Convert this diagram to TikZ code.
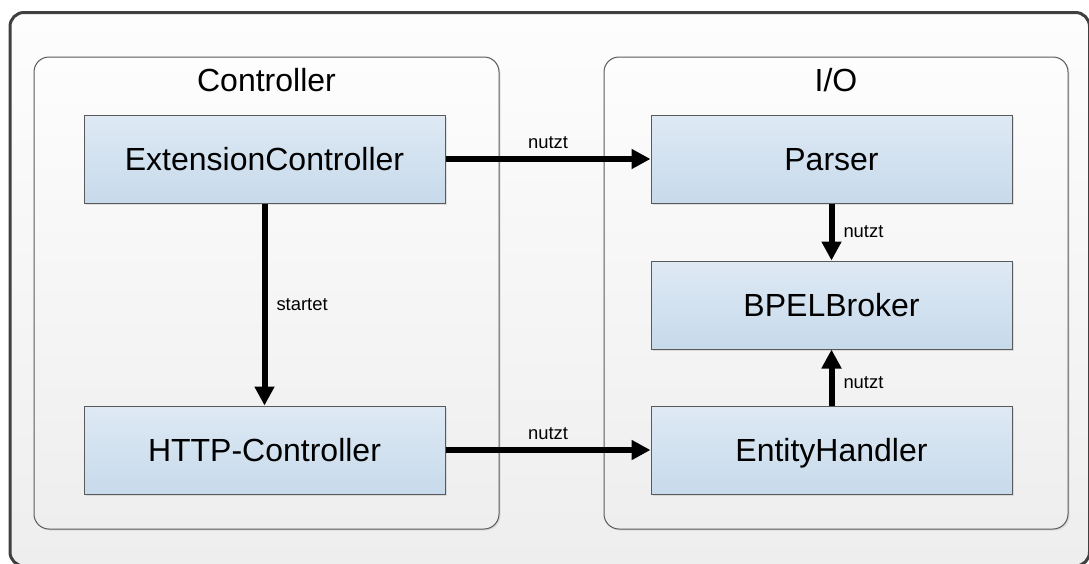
\documentclass[tikz,border=0pt]{standalone}
\usepackage{fontspec}
\setmainfont{Liberation Sans}
\usetikzlibrary{arrows.meta,shadows}

\definecolor{framegray}{HTML}{404040}
\definecolor{panelline}{HTML}{5A5A5A}
\definecolor{boxtop}{HTML}{DEE9F4}
\definecolor{boxbot}{HTML}{C7DAEB}
\definecolor{bgtop}{HTML}{FDFDFD}
\definecolor{bgbot}{HTML}{EEEEEE}

\begin{document}
\begin{tikzpicture}[x=1pt,y=-1pt,
  frame/.style={draw=framegray, line width=3pt, rounded corners=14pt,
    top color=bgtop, bottom color=bgbot},
  panel/.style={draw=panelline, line width=1pt, rounded corners=15pt,
    top color=bgtop, bottom color=bgbot, inner sep=0pt,
    drop shadow={shadow xshift=1.5pt, shadow yshift=-1.5pt, opacity=0.18}},
  component/.style={draw=panelline, line width=1pt,
    top color=boxtop, bottom color=boxbot,
    minimum width=361pt, minimum height=88pt, inner sep=0pt,
    text height=23pt, text depth=0pt,
    font=\fontsize{32}{38}\selectfont,
    drop shadow={shadow xshift=2pt, shadow yshift=-2pt, opacity=0.2}},
  title/.style={font=\fontsize{32}{38}\selectfont, anchor=base, inner sep=0pt},
  link/.style={line width=6pt, -{Triangle[length=19pt,width=19pt]}},
  tag/.style={font=\fontsize{18.4}{22}\selectfont, inner sep=0pt}
]
\useasboundingbox (0,0) rectangle (1089,563);

% outer frame
\path[frame] (10,12.5) rectangle (1089.5,566);

% the two groups
\node[panel, minimum width=465pt, minimum height=472pt] (ctrlpanel) at (266.5,293) {};
\node[panel, minimum width=464pt, minimum height=472pt] (iopanel) at (836,293) {};
\node[title] (ctrltitle) at (266.5,91) {Controller};
\node[title] (iotitle) at (836,91) {I/O};

% components
\node[component] (ext)    at (264.5,159) {ExtensionController};
\node[component] (http)   at (264.5,450) {HTTP-Controller};
\node[component] (parser) at (831.5,159) {Parser};
\node[component] (broker) at (831.5,305) {BPELBroker};
\node[component] (entity) at (831.5,450) {EntityHandler};

% relations
\draw[link] (ext.east) -- node[tag, midway, anchor=south, yshift=7pt] {nutzt} (parser.west);
\draw[link] (http.east) -- node[tag, midway, anchor=south, yshift=7pt] {nutzt} (entity.west);
\draw[link] (ext.south) -- node[tag, midway, anchor=west, xshift=9pt] {startet} (http.north);
\draw[link] (parser.south) -- node[tag, midway, anchor=west, xshift=9pt] {nutzt} (broker.north);
\draw[link] (entity.north) -- node[tag, pos=0.41, anchor=west, xshift=9pt] {nutzt} (broker.south);
\end{tikzpicture}
\end{document}
